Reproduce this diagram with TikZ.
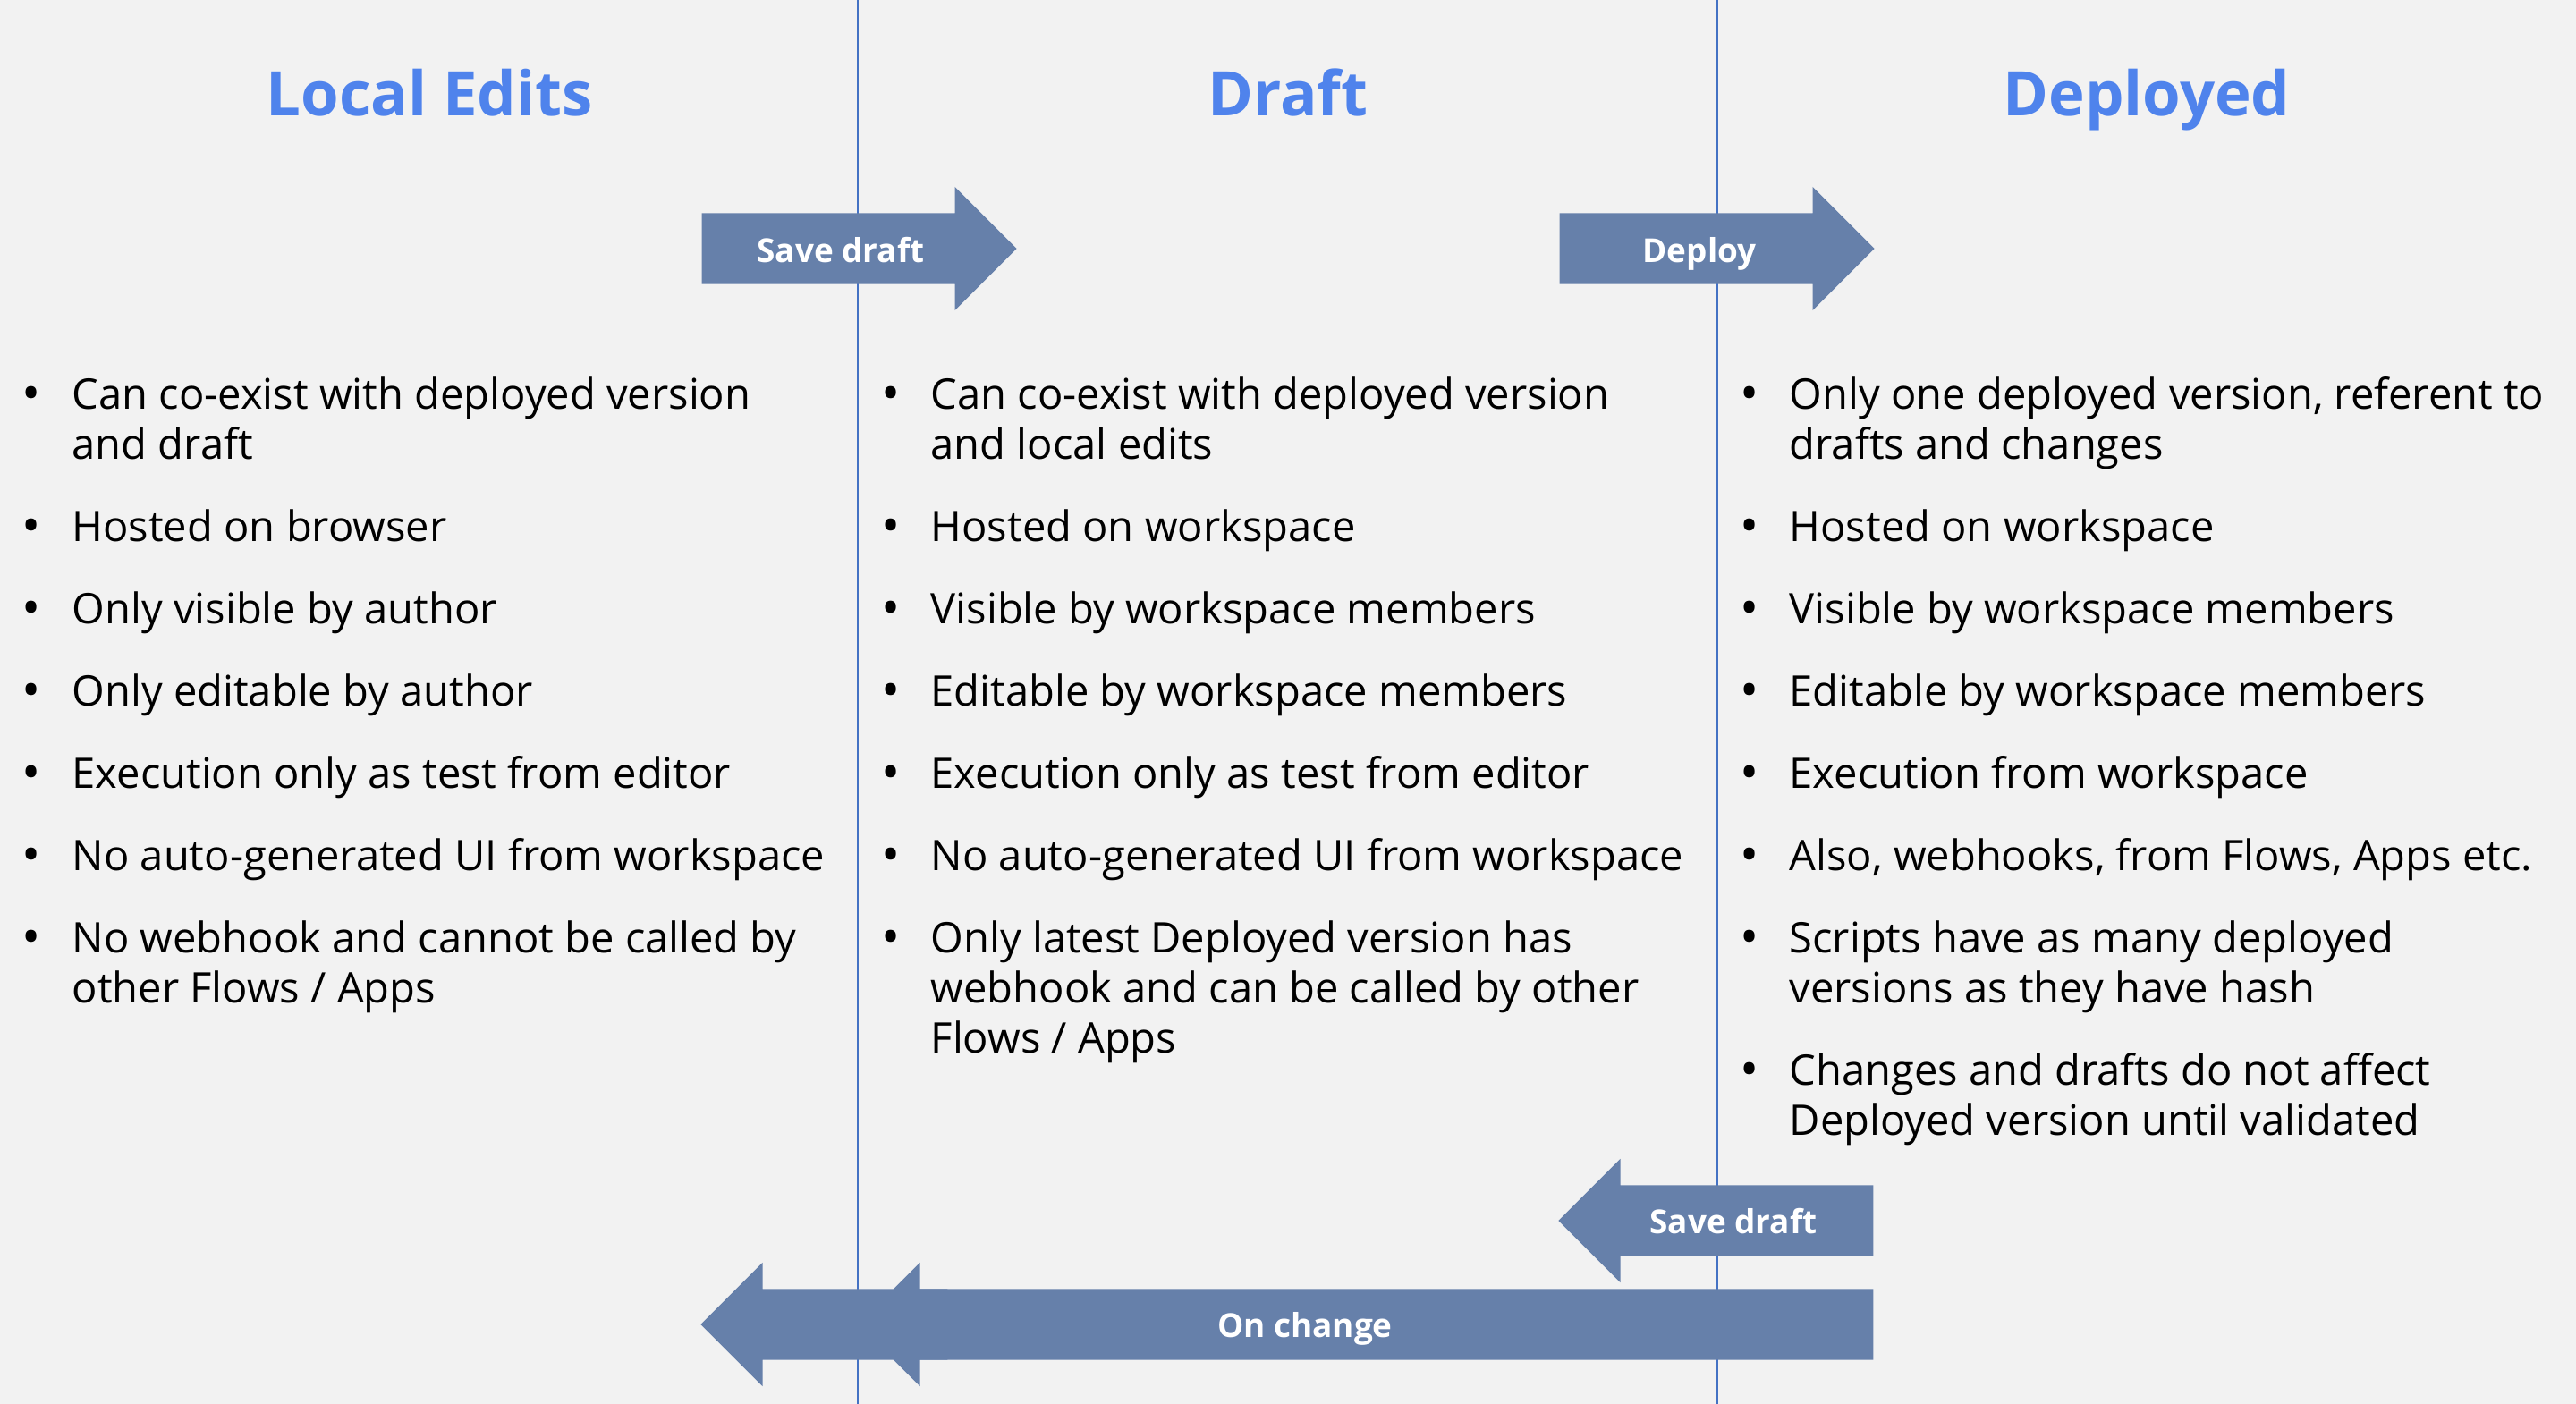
\documentclass[tikz,border=0pt]{standalone}
\usepackage{fontspec}
\setmainfont{Open Sans}
\usetikzlibrary{shapes.arrows}
\definecolor{bgcol}{HTML}{F2F2F2}
\definecolor{titleblue}{HTML}{4F83EC}
\definecolor{linecol}{HTML}{4472C4}
\definecolor{arrowcol}{HTML}{6680AA}
\tikzset{
  title/.style={anchor=base, inner sep=0pt, text=titleblue, font=\fontsize{19.6}{24}\selectfont\bfseries},
  item/.style={anchor=base west, inner sep=0pt, align=left, font=\fontsize{13.4}{0.56cm}\selectfont},
  dot/.style={anchor=base, inner sep=0pt, yshift=-0.02cm, font=\fontsize{16}{0.56cm}\selectfont},
  blockarrow/.style={single arrow, fill=arrowcol, draw=none, inner sep=0pt, text width=0pt, text height=0.39cm, text depth=0.39cm, single arrow head extend=0.295cm, anchor=tail},
  arrowtext/.style={anchor=base, text=white, inner sep=0pt, font=\fontsize{10.5}{12}\selectfont\bfseries},
  divider/.style={linecol, line width=0.02cm},
}
\begin{document}
\begin{tikzpicture}
      \fill[bgcol] (0,0) rectangle (28.8,-15.7);
      \useasboundingbox (0,0) rectangle (28.8,-15.7);

      \coordinate (top1) at (9.59,0);
      \coordinate (bot1) at (9.59,-15.7);
      \coordinate (top2) at (19.20,0);
      \coordinate (bot2) at (19.20,-15.7);
      \draw[divider] (top1) -- (bot1);
      \draw[divider] (top2) -- (bot2);

      \node[title] (tlocal) at (4.80,-1.29) {Local Edits};
      \node[title] (tdraft) at (14.40,-1.29) {Draft};
      \node[title] (tdeployed) at (24.00,-1.29) {Deployed};

      % arrows
      \node[blockarrow, minimum height=3.52cm] (save) at (7.84,-2.78) {};
      \node[blockarrow, minimum height=3.52cm] (deploy) at (17.43,-2.78) {};
      \node[blockarrow, minimum height=3.52cm, shape border rotate=180] (back) at (20.95,-13.65) {};
      \node[blockarrow, minimum height=11.35cm, shape border rotate=180] (change) at (20.95,-14.81) {};
      \node[blockarrow, minimum height=2.76cm, shape border rotate=180] (change2) at (10.60,-14.81) {};
      \node[arrowtext] (savetext) at (9.40,-2.93) {Save draft};
      \node[arrowtext] (deploytext) at (19.00,-2.93) {Deploy};
      \node[arrowtext] (backtext) at (19.38,-13.79) {Save draft};
      \node[arrowtext] (changetext) at (14.59,-14.95) {On change};

      % local edits (multi-line items sit on their last line)
      \node[dot] (bl1) at (0.35,-4.57) {\textbullet};
      \node[dot] (bl2) at (0.35,-6.05) {\textbullet};
      \node[dot] (bl3) at (0.35,-6.97) {\textbullet};
      \node[dot] (bl4) at (0.35,-7.89) {\textbullet};
      \node[dot] (bl5) at (0.35,-8.81) {\textbullet};
      \node[dot] (bl6) at (0.35,-9.73) {\textbullet};
      \node[dot] (bl7) at (0.35,-10.65) {\textbullet};
      \node[item] (l1) at (0.80,-5.13) {Can co-exist with deployed version\\and draft};
      \node[item] (l2) at (0.80,-6.05) {Hosted on browser};
      \node[item] (l3) at (0.80,-6.97) {Only visible by author};
      \node[item] (l4) at (0.80,-7.89) {Only editable by author};
      \node[item] (l5) at (0.80,-8.81) {Execution only as test from editor};
      \node[item] (l6) at (0.80,-9.73) {No auto-generated UI from workspace};
      \node[item] (l7) at (0.80,-11.21) {No webhook and cannot be called by\\other Flows / Apps};

      % draft
      \node[dot] (bd1) at (9.96,-4.57) {\textbullet};
      \node[dot] (bd2) at (9.96,-6.05) {\textbullet};
      \node[dot] (bd3) at (9.96,-6.97) {\textbullet};
      \node[dot] (bd4) at (9.96,-7.89) {\textbullet};
      \node[dot] (bd5) at (9.96,-8.81) {\textbullet};
      \node[dot] (bd6) at (9.96,-9.73) {\textbullet};
      \node[dot] (bd7) at (9.96,-10.65) {\textbullet};
      \node[item] (d1) at (10.40,-5.13) {Can co-exist with deployed version\\and local edits};
      \node[item] (d2) at (10.40,-6.05) {Hosted on workspace};
      \node[item] (d3) at (10.40,-6.97) {Visible by workspace members};
      \node[item] (d4) at (10.40,-7.89) {Editable by workspace members};
      \node[item] (d5) at (10.40,-8.81) {Execution only as test from editor};
      \node[item] (d6) at (10.40,-9.73) {No auto-generated UI from workspace};
      \node[item] (d7) at (10.40,-11.77) {Only latest Deployed version has\\webhook and can be called by other\\Flows / Apps};

      % deployed
      \node[dot] (bp1) at (19.56,-4.57) {\textbullet};
      \node[dot] (bp2) at (19.56,-6.05) {\textbullet};
      \node[dot] (bp3) at (19.56,-6.97) {\textbullet};
      \node[dot] (bp4) at (19.56,-7.89) {\textbullet};
      \node[dot] (bp5) at (19.56,-8.81) {\textbullet};
      \node[dot] (bp6) at (19.56,-9.73) {\textbullet};
      \node[dot] (bp7) at (19.56,-10.65) {\textbullet};
      \node[dot] (bp8) at (19.56,-12.13) {\textbullet};
      \node[item] (p1) at (20.00,-5.13) {Only one deployed version, referent to\\drafts and changes};
      \node[item] (p2) at (20.00,-6.05) {Hosted on workspace};
      \node[item] (p3) at (20.00,-6.97) {Visible by workspace members};
      \node[item] (p4) at (20.00,-7.89) {Editable by workspace members};
      \node[item] (p5) at (20.00,-8.81) {Execution from workspace};
      \node[item] (p6) at (20.00,-9.73) {Also, webhooks, from Flows, Apps etc.};
      \node[item] (p7) at (20.00,-11.21) {Scripts have as many deployed\\versions as they have hash};
      \node[item] (p8) at (20.00,-12.69) {Changes and drafts do not affect\\Deployed version until validated};
\end{tikzpicture}
\end{document}
